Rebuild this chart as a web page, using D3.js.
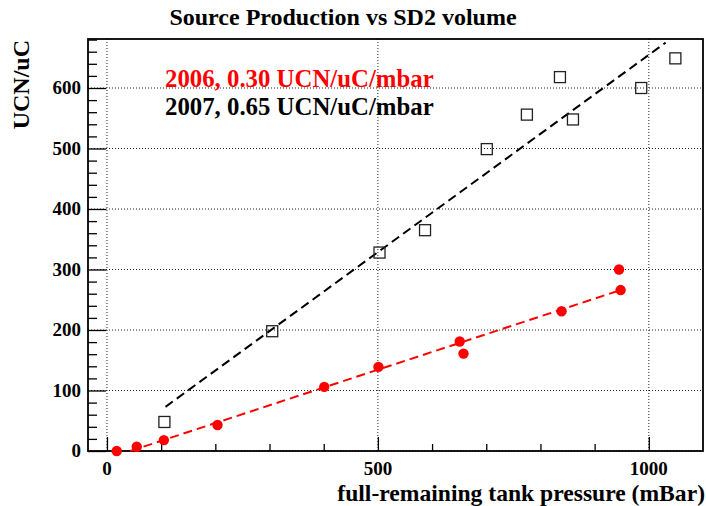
<!DOCTYPE html>
<html>
<head>
<meta charset="utf-8">
<script src="https://cdn.jsdelivr.net/npm/d3@7"></script>
<style>
  body { margin: 0; background: #fff; }
  svg text { font-family: "Liberation Serif", "Times New Roman", serif; font-weight: bold; }
</style>
</head>
<body>
<svg class="chart" width="706" height="506"></svg>
<script>
// 2006 data (red dots)
const x2006 = [18, 55, 105, 204, 401, 501, 651, 658, 839, 945, 948];
const y2006 = [0, 7, 18, 43, 106, 139, 181, 161, 231, 300, 266];
// 2007 data (open squares)
const x2007 = [106, 305, 503, 587, 701, 775, 836, 860, 986, 1049];
const y2007 = [48, 198, 328, 365, 499, 556, 618, 548, 600, 649];
// fitted lines, end points
const fit2006 = [[43, 0], [948, 266]];
const fit2007 = [[108, 73], [1031, 675]];

const legendLabels = ["2006, 0.30 UCN/uC/mbar", "2007, 0.65 UCN/uC/mbar"];
const xMajor = [0, 500, 1000];
const yMajor = [0, 100, 200, 300, 400, 500, 600];

let svg = d3.select("svg.chart");
let frame = {left: 88, right: 703, top: 39, bottom: 451};

let x = d3.scaleLinear().domain([-35, 1100]).range([frame.left, frame.right]);
let y = d3.scaleLinear().domain([0, 681]).range([frame.bottom, frame.top]);

// grid
svg.append("g").selectAll("line")
    .data(xMajor)
    .join("line")
    .attr("x1", d => x(d)).attr("x2", d => x(d))
    .attr("y1", frame.top).attr("y2", frame.bottom)
    .style("stroke", "#222").style("stroke-dasharray", "1,2");

svg.append("g").selectAll("line")
    .data(yMajor)
    .join("line")
    .attr("x1", frame.left).attr("x2", frame.right)
    .attr("y1", d => y(d)).attr("y2", d => y(d))
    .style("stroke", "#222").style("stroke-dasharray", "1,2");

// axes with ticks inside the frame
let xAxis = d3.axisBottom(x).tickValues(d3.range(0, 1001, 100))
    .tickSize(-7).tickFormat("");
svg.append("g")
    .attr("class", "x-axis")
    .attr("transform", "translate(0," + frame.bottom + ")")
    .call(xAxis)
    .call(g => g.selectAll(".tick line").filter(d => d % 500 === 0).attr("y2", -14));

let yAxis = d3.axisLeft(y).tickValues(d3.range(0, 681, 20))
    .tickSize(-9).tickFormat("");
svg.append("g")
    .attr("class", "y-axis")
    .attr("transform", "translate(" + frame.left + ",0)")
    .call(yAxis)
    .call(g => g.selectAll(".tick line").filter(d => d % 100 === 0).attr("x2", 18));

svg.selectAll(".x-axis .domain, .y-axis .domain").remove();
svg.selectAll(".tick line").style("stroke", "#000").style("stroke-width", 1.3);

// frame
svg.append("rect")
    .attr("x", frame.left).attr("y", frame.top)
    .attr("width", frame.right - frame.left)
    .attr("height", frame.bottom - frame.top)
    .style("fill", "none").style("stroke", "#000").style("stroke-width", 1.8);

// tick labels
svg.append("g").selectAll("text")
    .data(xMajor)
    .join("text")
    .attr("x", d => x(d)).attr("y", 475)
    .style("text-anchor", "middle").style("font-size", "19px")
    .text(d => d);

svg.append("g").selectAll("text")
    .data(yMajor)
    .join("text")
    .attr("x", 81).attr("y", d => y(d) + 6)
    .style("text-anchor", "end").style("font-size", "19px")
    .text(d => d);

// titles
svg.append("text")
    .attr("x", 343).attr("y", 25)
    .style("text-anchor", "middle").style("font-size", "24px")
    .text("Source Production vs SD2 volume");

svg.append("text")
    .attr("x", 705).attr("y", 501)
    .style("text-anchor", "end").style("font-size", "23.6px")
    .text("full-remaining tank pressure (mBar)");

svg.append("text")
    .attr("transform", "translate(29,40) rotate(-90)")
    .style("text-anchor", "end").style("font-size", "24px")
    .text("UCN/uC");

// fit lines
let line = d3.line().x(d => x(d[0])).y(d => y(d[1]));
svg.append("path").datum(fit2006).attr("d", line)
    .style("fill", "none").style("stroke", "#ff0000").style("stroke-width", 2)
    .style("stroke-dasharray", "9,5");
svg.append("path").datum(fit2007).attr("d", line)
    .style("fill", "none").style("stroke", "#000").style("stroke-width", 2)
    .style("stroke-dasharray", "9,5");

// markers
svg.append("g").selectAll("circle")
    .data(d3.zip(x2006, y2006))
    .join("circle")
    .attr("cx", d => x(d[0])).attr("cy", d => y(d[1]))
    .attr("r", 5.2)
    .style("fill", "#ff0000");

svg.append("g").selectAll("rect")
    .data(d3.zip(x2007, y2007))
    .join("rect")
    .attr("x", d => x(d[0]) - 5.5).attr("y", d => y(d[1]) - 5.5)
    .attr("width", 11).attr("height", 11)
    .style("fill", "none").style("stroke", "#222").style("stroke-width", 1.3);

// legend text
svg.append("text")
    .attr("x", 165).attr("y", 87)
    .style("font-size", "24.8px").style("fill", "#ff0000")
    .text(legendLabels[0]);
svg.append("text")
    .attr("x", 165).attr("y", 115)
    .style("font-size", "24.8px").style("fill", "#000")
    .text(legendLabels[1]);
</script>
</body>
</html>
